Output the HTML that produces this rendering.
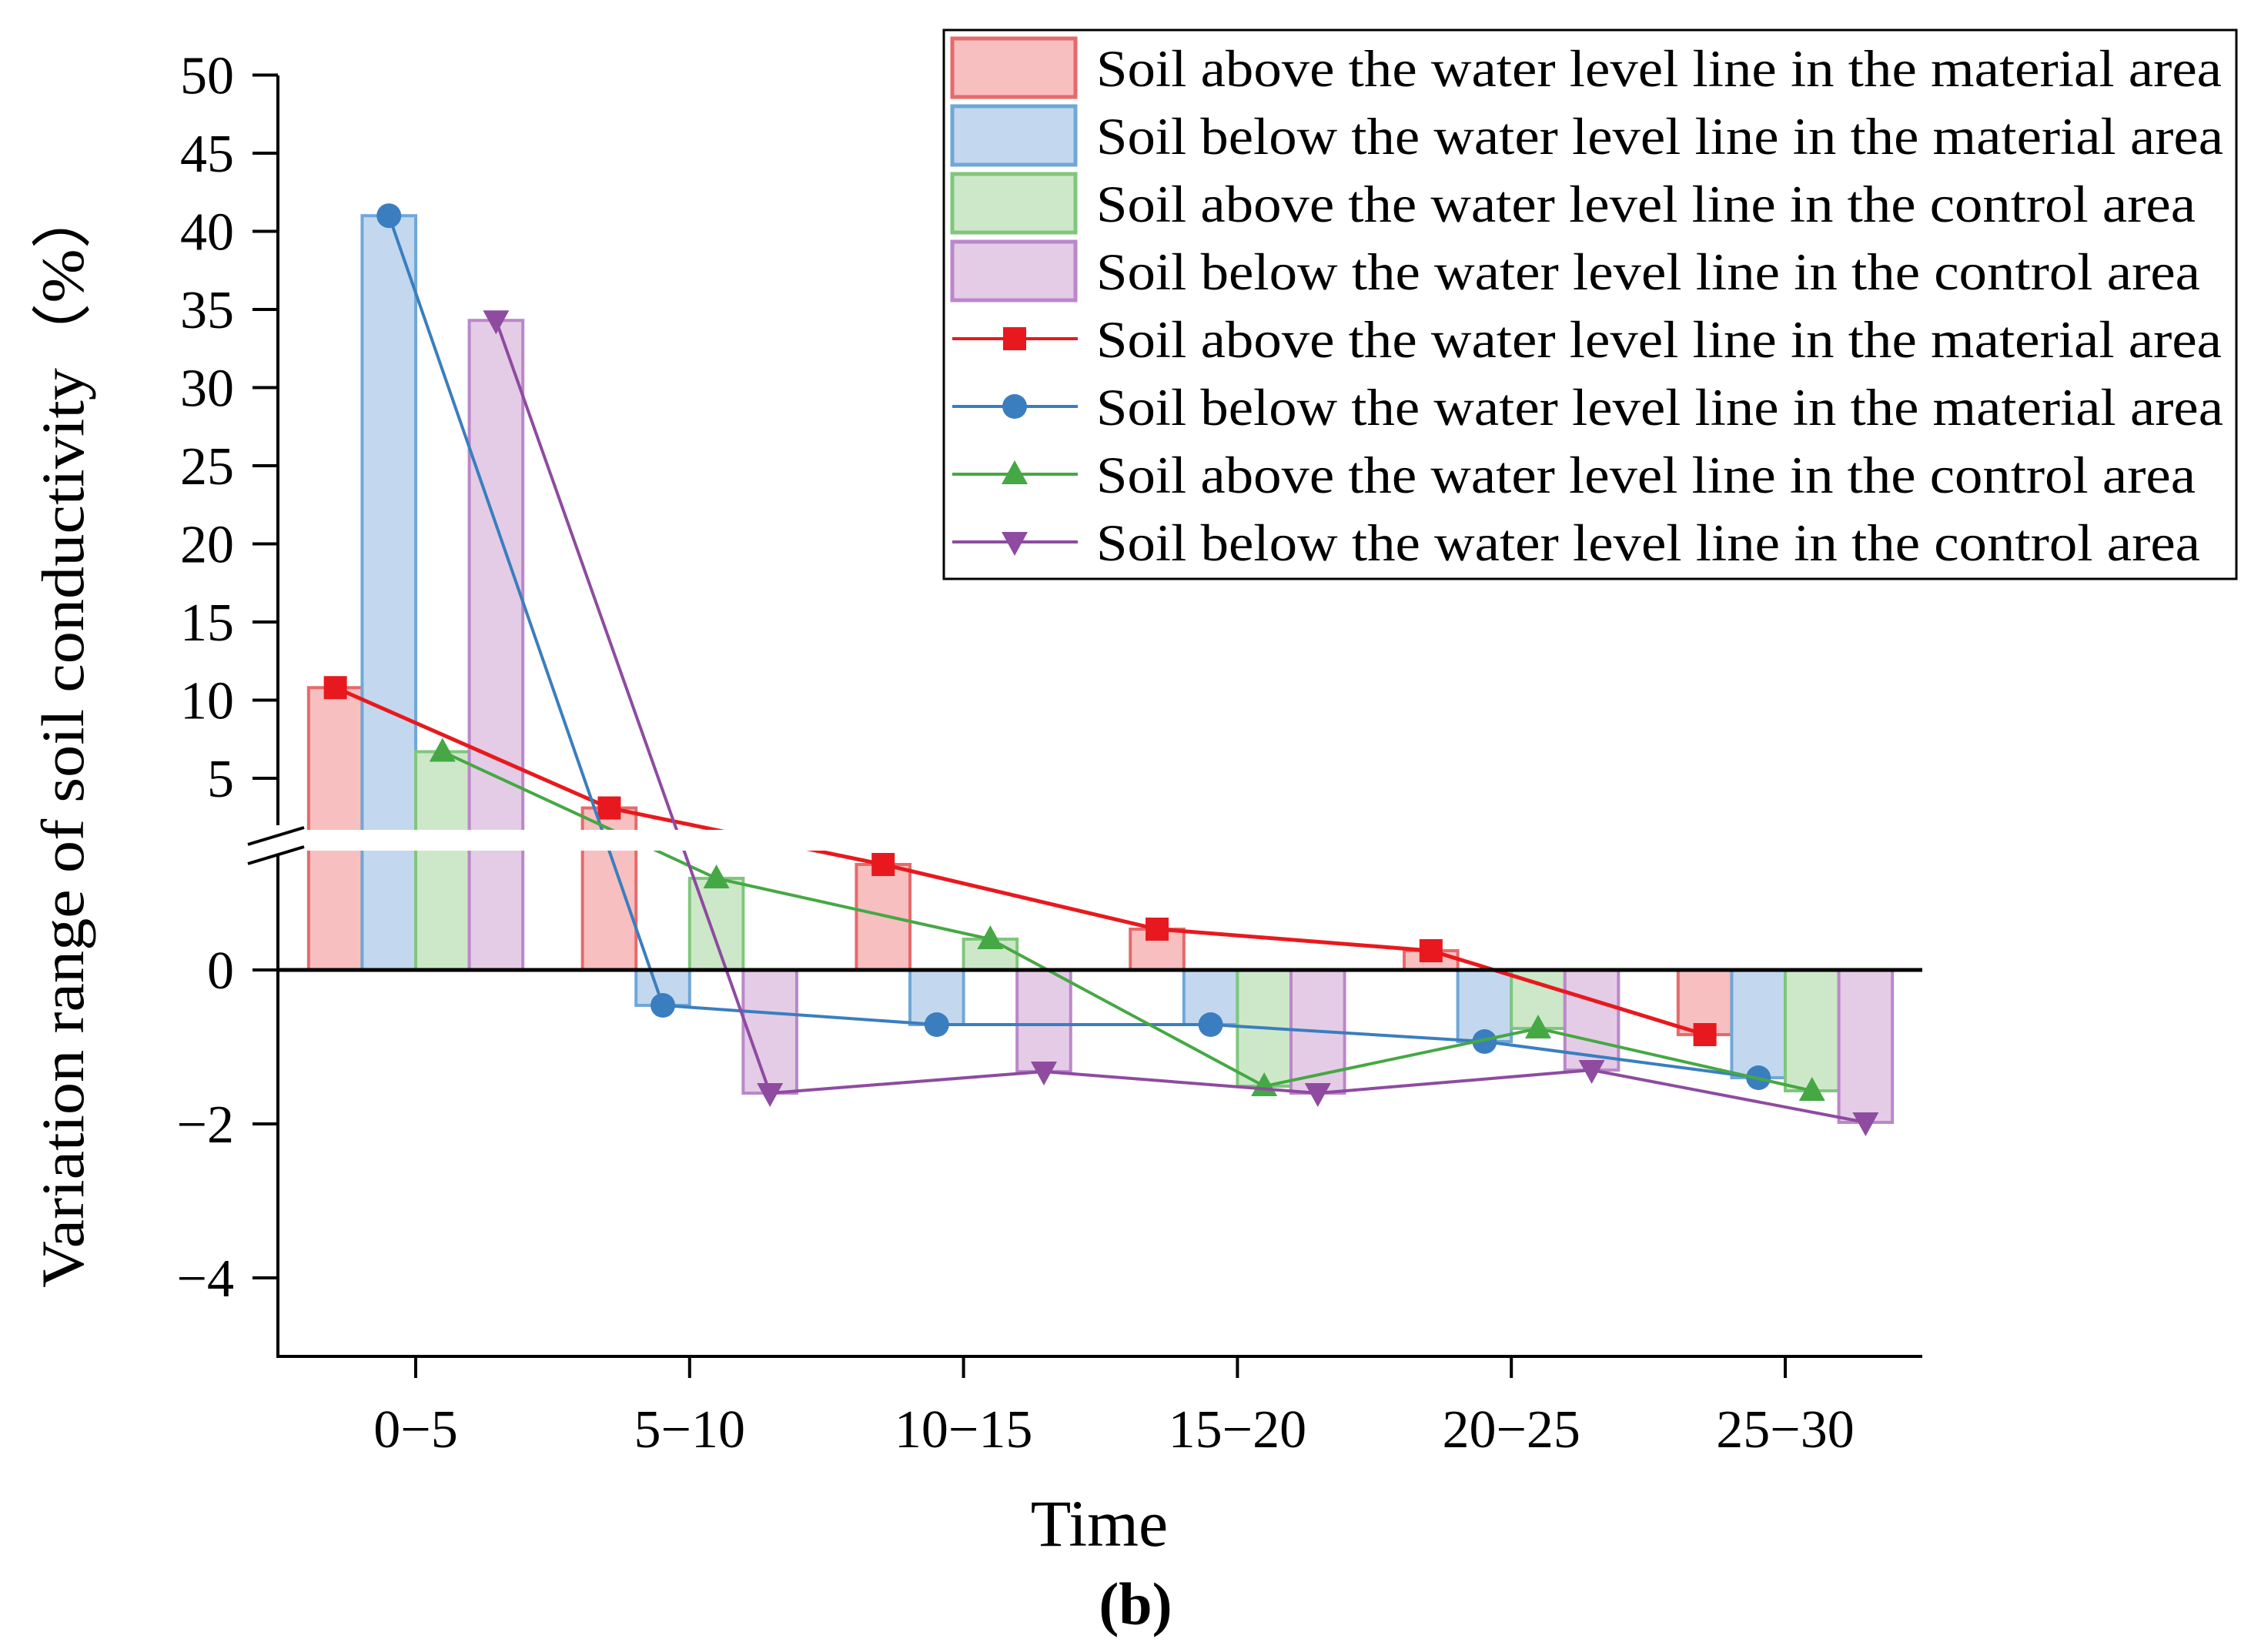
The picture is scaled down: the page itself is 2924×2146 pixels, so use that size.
<!DOCTYPE html>
<html><head><meta charset="utf-8"><style>
html,body{margin:0;padding:0;background:#fff}
svg{display:block}
text{font-family:"Liberation Serif",serif;fill:#000}
</style></head><body>
<svg id="chart" xmlns="http://www.w3.org/2000/svg" width="2924" height="2146" viewBox="0 0 2924 2146">
<g id="plot"></g>
<g id="axes"></g>
<g id="legend"></g>
</svg>
<script>
const categories = ["0\u22125","5\u221210","10\u221215","15\u221220","20\u221225","25\u221230"];
const seriesNames = ["Soil above the water level line in the material area","Soil below the water level line in the material area","Soil above the water level line in the control area","Soil below the water level line in the control area"];
const redVals = [10.8, 3.1, 1.37, 0.53, 0.25, -0.84];
const blueVals = [41.0, -0.46, -0.71, -0.71, -0.93, -1.4];
const greenVals = [6.7, 1.19, 0.4, -1.51, -0.76, -1.57];
const purpleVals = [34.3, -1.6, -1.32, -1.6, -1.3, -1.98];
const upperTicks = [5,10,15,20,25,30,35,40,45,50];
const lowerTicks = [0,-2,-4];

const NS="http://www.w3.org/2000/svg";
function mk(tag,attrs,parent){const e=document.createElementNS(NS,tag);for(const k in attrs)e.setAttribute(k,attrs[k]);parent.appendChild(e);return e;}
const fills=["#f7bfbf","#c3d8ee","#cde8c9","#e4cce6"];
const strokes=["#e66a6a","#6fa7d8","#80c67c","#bb87c9"];
const lineCols=["#e8191e","#3a7ebf","#45a844","#8e4ba0"];
const series=[redVals,blueVals,greenVals,purpleVals];
const markerNames=["square","circle","triangle-up","triangle-down"];
const x0=361,x1=2497;
function xCat(i){return 540+i*355.8;}
const barW=71;
function yUp(v){return 1011-(v-5)*20.3;}
function yLo(v){return 1260-v*100;}
function y(v){return v>1.6?yUp(v):yLo(v);}
const g=document.getElementById('plot');
function marker(par,kind,cx,cy,col){
  let e;
  if(kind==="square") e=mk('rect',{x:cx-15,y:cy-15,width:30,height:30,fill:col},par);
  else if(kind==="circle") e=mk('circle',{cx:cx,cy:cy,r:16,fill:col},par);
  else if(kind==="triangle-up") e=mk('polygon',{points:`${cx},${cy-18} ${cx-17},${cy+13} ${cx+17},${cy+13}`,fill:col},par);
  else e=mk('polygon',{points:`${cx},${cy+18} ${cx-17},${cy-13} ${cx+17},${cy-13}`,fill:col},par);
  
  
}
series.forEach((vals,s)=>{
  vals.forEach((v,i)=>{
    const bx=xCat(i)+(s-2)*barW*0.98;
    const y0=y(0),yv=y(v);
    const r=mk('rect',{x:bx,y:Math.min(y0,yv),width:barW*0.98,height:Math.abs(y0-yv),fill:fills[s],stroke:strokes[s],'stroke-width':4},g);
    
    
  });
});
series.forEach((vals,s)=>{
  const pts=vals.map((v,i)=>[xCat(i)+(s-1.5)*barW*0.98,y(v)]);
  const p=mk('polyline',{points:pts.map(p=>p.join(',')).join(' '),fill:'none',stroke:lineCols[s],'stroke-width':s===0?5:4},g);
  
  
  pts.forEach(pt=>marker(g,markerNames[s],pt[0],pt[1],lineCols[s]));
});
let band=mk('rect',{x:300,y:1078,width:2210,height:27,fill:'#fff'},g);

const ax=document.getElementById('axes');
let z=mk('line',{x1:x0,y1:yLo(0),x2:x1,y2:yLo(0),stroke:'#000','stroke-width':5},ax);

let ya=mk('path',{d:`M${x0},98 V1072 M${x0},1110 V1762 H${x1}`,fill:'none',stroke:'#000','stroke-width':4},ax);

let br=mk('path',{d:`M322,1097 L395,1075 M322,1122 L395,1100`,stroke:'#000','stroke-width':4},ax);

upperTicks.forEach(t=>{
  const yy=yUp(t);
  mk('line',{x1:328,y1:yy,x2:x0,y2:yy,stroke:'#000','stroke-width':4},ax);
  const tx=mk('text',{x:304,y:yy+24,'font-size':70,'text-anchor':'end'},ax);tx.textContent=String(t);
  
});
lowerTicks.forEach(t=>{
  const yy=yLo(t);
  mk('line',{x1:328,y1:yy,x2:x0,y2:yy,stroke:'#000','stroke-width':4},ax);
  const tx=mk('text',{x:304,y:yy+24,'font-size':70,'text-anchor':'end'},ax);tx.textContent=t<0?'\u2212'+Math.abs(t):String(t);
  
});
categories.forEach((c,i)=>{
  const xx=xCat(i);
  mk('line',{x1:xx,y1:1762,x2:xx,y2:1790,stroke:'#000','stroke-width':4},ax);
  const tx=mk('text',{x:xx,y:1880,'font-size':70,'text-anchor':'middle'},ax);tx.textContent=c;
  
});
let xt=mk('text',{x:1428,y:2008,'font-size':86,'text-anchor':'middle'},ax);xt.textContent='Time';

let bt=mk('text',{x:1475,y:2110,'font-size':78,'font-weight':'bold','text-anchor':'middle'},ax);bt.textContent='(b)';

let yt=mk('text',{x:0,y:0,'font-size':78,'text-anchor':'middle',transform:'translate(108,956) rotate(-90)',textLength:1434,lengthAdjust:'spacingAndGlyphs'},ax);
yt.textContent='Variation range of soil conductivity\uFF08%\uFF09';

const lg=document.getElementById('legend');
let lb=mk('rect',{x:1226,y:39,width:1679,height:713,fill:'#fff',stroke:'#000','stroke-width':3},lg);

const textLens=[1462,1464,1428,1434];
for(let k=0;k<8;k++){
  const s=k%4, cy=88+k*88;
  if(k<4){
    const r=mk('rect',{x:1237,y:cy-38,width:160,height:76,fill:fills[s],stroke:strokes[s],'stroke-width':5},lg);
    
  }else{
    mk('line',{x1:1237,y1:cy,x2:1400,y2:cy,stroke:lineCols[s],'stroke-width':4},lg);
    marker(lg,markerNames[s],1318,cy,lineCols[s]);
  }
  const t=mk('text',{x:1424,y:cy+24,'font-size':68,textLength:textLens[s],lengthAdjust:'spacingAndGlyphs'},lg);
  t.textContent=seriesNames[s];
  
}
</script>
</body></html>
